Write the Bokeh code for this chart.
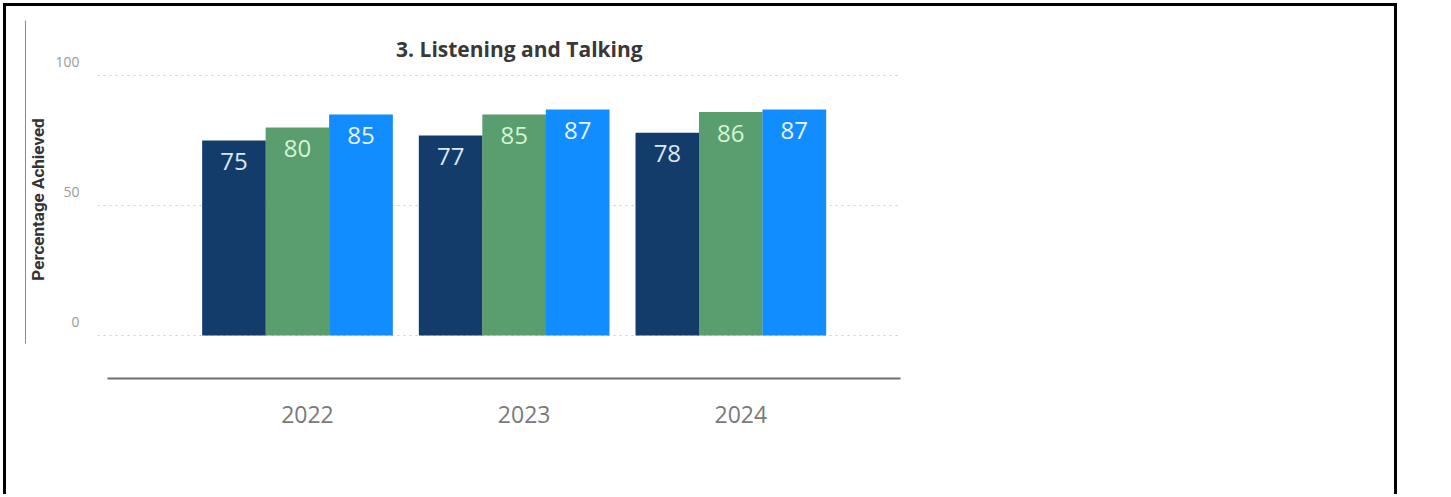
from bokeh.plotting import figure
from bokeh.models import (Range1d, LinearAxis, FixedTicker, Label, ColumnDataSource)
from bokeh.transform import dodge
from bokeh.core.properties import value
from bokeh.embed import file_html
from bokeh.resources import INLINE

# ---- data ----
years = ["2022", "2023", "2024"]
series_1 = [75, 77, 78]
series_2 = [80, 85, 86]
series_3 = [85, 87, 87]
y_ticks = [0, 50, 100]
chart_title = "3. Listening and Talking"
y_title = "Percentage Achieved"

colors = ["#133c6b", "#5a9e6f", "#118dff"]
label_colors = ["#dbe7f5", "#d4f5d2", "#e8f2ff"]

# canvas sits inside a black page border (3px margin + 3px border)
OFF = 6
CW, CH = 1394, 491
x_rng = Range1d(-0.923, 2.783)
y_rng = Range1d(-16.5, 121.2)

p = figure(width=CW, height=CH, output_backend="svg", toolbar_location=None,
           x_range=x_rng, y_range=y_rng,
           x_axis_location=None, y_axis_location=None,
           min_border_left=97 - OFF, min_border_right=CW - (900 - OFF),
           min_border_top=20 - OFF, min_border_bottom=CH - (378 - OFF))
p.styles = {"margin-left": "3px", "margin-top": "3px",
            "border-top": "3px solid black", "border-left": "3px solid black",
            "border-right": "3px solid black"}
p.outline_line_color = None
p.background_fill_color = "white"
p.border_fill_color = "white"

p.xgrid.visible = False
p.ygrid.ticker = FixedTicker(ticks=y_ticks)
p.ygrid.grid_line_color = "#cfcfcf"
p.ygrid.grid_line_dash = "2 4"
p.ygrid.grid_line_width = 1.2

idx = list(range(len(years)))
src = ColumnDataSource(dict(
    x=idx,
    s1=series_1, s2=series_2, s3=series_3,
    l1=[str(v) for v in series_1],
    l2=[str(v) for v in series_2],
    l3=[str(v) for v in series_3],
))

bar_w = 0.294
offsets = [-0.293, 0.0, 0.293]
for (col, lab), off, c, lc in zip([("s1", "l1"), ("s2", "l2"), ("s3", "l3")],
                                  offsets, colors, label_colors):
    p.vbar(x=dodge("x", off, range=p.x_range), top=col, width=bar_w, source=src,
           fill_color=c, line_color=None)
for (col, lab), off, c, lc in zip([("s1", "l1"), ("s2", "l2"), ("s3", "l3")],
                                  offsets, colors, label_colors):
    p.text(x=dodge("x", off, range=p.x_range), y=col, text=lab, source=src,
           text_align="center", text_baseline="middle", y_offset=21,
           text_font=value("Open Sans"), text_font_size="24px", text_color=lc)

# title
p.add_layout(Label(x=1.024, y=110.4, text=chart_title, text_align="center",
                   text_baseline="middle", text_font="Open Sans",
                   text_font_style="bold", text_font_size="21px",
                   text_color="#383838"))

# y axis (labels shifted up a little, as in the original)
p.extra_y_ranges = {"lab": Range1d(-16.5 - 5.4, 121.2 - 5.4)}
yax = LinearAxis(y_range_name="lab", ticker=FixedTicker(ticks=y_ticks),
                 axis_label=y_title)
yax.axis_line_color = None
yax.major_tick_line_color = None
yax.minor_tick_line_color = None
yax.major_label_text_font = "Open Sans"
yax.major_label_text_font_size = "14px"
yax.major_label_text_color = "#9a9a9a"
yax.major_label_standoff = 12
yax.axis_label_standoff = 4
yax.axis_label_text_font = "Roboto"
yax.axis_label_text_font_style = "bold"
yax.axis_label_text_font_size = "17px"
yax.axis_label_text_color = "#333333"
p.add_layout(yax, "left")

# thin vertical line at far left
lax = LinearAxis(ticker=FixedTicker(ticks=[]), bounds=(-3.1, 121.2))
lax.axis_line_color = "#8a8a8a"
lax.axis_line_width = 1
lax.major_tick_line_color = None
lax.minor_tick_line_color = None
lax.major_label_text_font_size = "0px"
p.add_layout(lax, "left")

# x axis
p.extra_x_ranges = {"xlab": Range1d(-0.923 - 0.046, 2.783 - 0.046)}
xax = LinearAxis(x_range_name="xlab", ticker=FixedTicker(ticks=idx),
                 major_label_overrides={i: y for i, y in zip(idx, years)},
                 bounds=(-0.923, 2.737))
xax.axis_line_color = "#6f6f6f"
xax.axis_line_width = 2
xax.major_tick_line_color = None
xax.minor_tick_line_color = None
xax.major_label_text_font = "Open Sans"
xax.major_label_text_font_size = "23px"
xax.major_label_text_color = "#7a7a7a"
xax.major_label_standoff = 21
p.add_layout(xax, "below")

open("out.html", "w").write(file_html(p, INLINE))
